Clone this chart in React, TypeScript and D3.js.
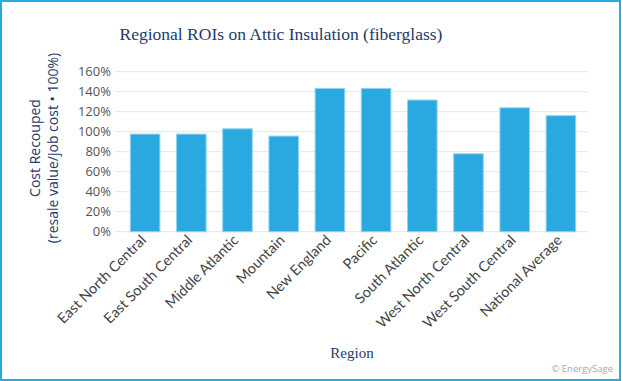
import React from "react";
import * as d3 from "d3";

const regions = [
  "East North Central",
  "East South Central",
  "Middle Atlantic",
  "Mountain",
  "New England",
  "Pacific",
  "South Atlantic",
  "West North Central",
  "West South Central",
  "National Average",
];
const roiValues = [97.6, 97.6, 102.9, 95.6, 143.3, 143.3, 131.7, 77.9, 123.9, 116.0];
const yTicks = [0, 20, 40, 60, 80, 100, 120, 140, 160];

const W = 621;
const H = 381;
const NAVY = "#233a6b";
const BAR = "#29a9e0";

export default function App() {
  const x = d3.scaleBand<string>().domain(regions).range([122, 584]).paddingInner(0.36).paddingOuter(0.18);
  const y = d3.scaleLinear().domain([0, 160]).range([231.7, 71.7]);
  const gridX0 = 115;
  const gridX1 = 588;
  return (
    <svg
      width={W}
      height={H}
      style={{ position: "absolute", left: 0, top: 0, display: "block" }}
    >
      <rect x={0} y={0} width={W} height={H} fill="#fff" />
      <rect x={1} y={1} width={W - 2} height={H - 2} fill="none" stroke={BAR} strokeWidth={2} />
      <text
        x={281}
        y={40}
        textAnchor="middle"
        fontFamily="'Liberation Serif', serif"
        fontSize={17.5}
        fill={NAVY}
      >
        Regional ROIs on Attic Insulation (fiberglass)
      </text>
      {yTicks.map((t) => (
        <g key={t}>
          <line x1={gridX0} x2={gridX1} y1={y(t)} y2={y(t)} stroke="#e6e6e6" strokeWidth={1} />
          <text
            x={111}
            y={y(t)}
            dy="0.35em"
            textAnchor="end"
            fontFamily="'Open Sans', sans-serif"
            fontSize={13}
            fill="#555"
          >
            {t}%
          </text>
        </g>
      ))}
      {regions.map((r, i) => (
        <rect
          key={r}
          x={x(r)!}
          y={y(roiValues[i])}
          width={x.bandwidth()}
          height={y(0) - y(roiValues[i])}
          fill={BAR}
          stroke="#8fd3f0"
          strokeWidth={1}
        />
      ))}
      {regions.map((r) => (
        <text
          key={r}
          transform={`translate(${x(r)! + x.bandwidth() / 2 + 2},${241}) rotate(-45)`}
          textAnchor="end"
          fontFamily="'Lato', sans-serif"
          fontSize={14.5}
          fill="#444"
        >
          {r}
        </text>
      ))}
      <g transform="translate(40,148) rotate(-90)">
        <text textAnchor="middle" fontFamily="'Open Sans', sans-serif" fontSize={14} fill={NAVY}>
          Cost Recouped
        </text>
        <text y={18} textAnchor="middle" fontFamily="'Open Sans', sans-serif" fontSize={14} fill={NAVY}>
          (resale value/job cost • 100%)
        </text>
      </g>
      <text
        x={352}
        y={358}
        textAnchor="middle"
        fontFamily="'Liberation Serif', serif"
        fontSize={15}
        fill={NAVY}
      >
        Region
      </text>
      <text
        x={613}
        y={372}
        textAnchor="end"
        fontFamily="'Open Sans', sans-serif"
        fontSize={9.5}
        fill="#aaa"
      >
        © EnergySage
      </text>
    </svg>
  );
}
